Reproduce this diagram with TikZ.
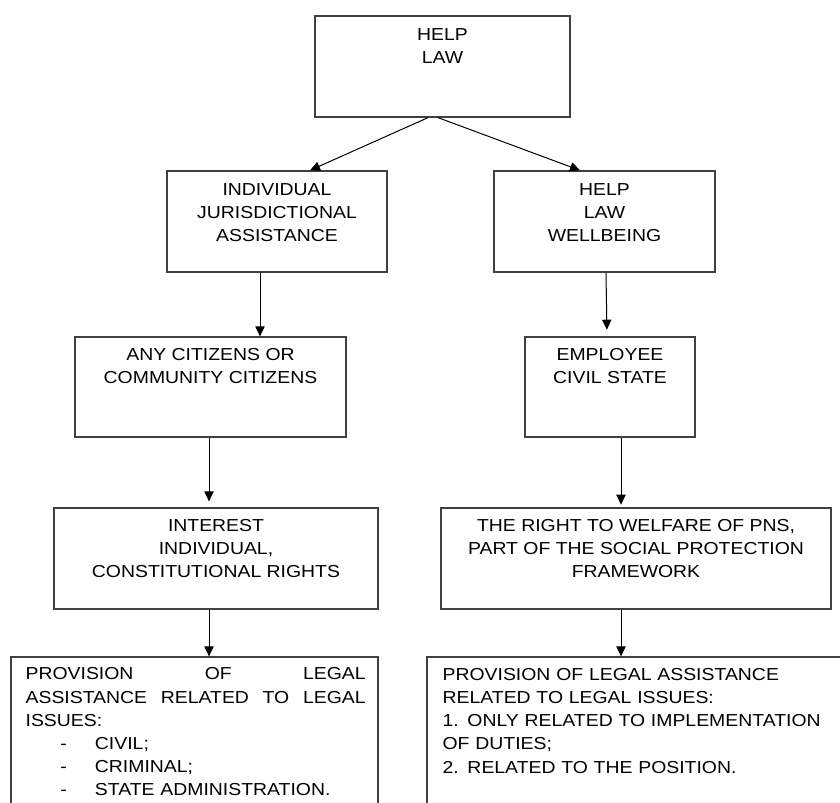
\documentclass[tikz,border=0pt]{standalone}
\usepackage{fontspec}
\setmainfont{Liberation Sans}[FakeStretch=1.12]
\usetikzlibrary{positioning,arrows.meta,calc}
\definecolor{chGray}{RGB}{64,64,64}
\definecolor{chText}{RGB}{0,0,0}
\tikzset{
    base/.style={font=\fontsize{13}{17.4}\selectfont, text=chText},
    box/.style={rectangle, draw=chGray, line width=0.95pt, fill=white, inner sep=0pt},
    head/.style={base, align=center, anchor=north, inner sep=0pt},
    para/.style={base, align=left, anchor=north west, inner sep=0pt},
    flow/.style={-{Triangle[length=7.5pt,width=7pt]}, line width=0.75pt, color=black}
}
\newcommand{\listdash}[1]{\hspace*{26pt}\makebox[26pt][l]{-}#1}

\begin{document}
\begin{tikzpicture}[x=0.75pt,y=-0.75pt]
  \useasboundingbox (0,0) rectangle (840,803);
  \fill[white] (0,0) rectangle (840,803);
  \clip (0,0) rectangle (840,803);

  % boxes
  \node[box, minimum width=191.25pt, minimum height=75.75pt] (law) at (442.5,66.5) {};
  \node[box, minimum width=165pt, minimum height=75.75pt] (jur) at (277,221.5) {};
  \node[box, minimum width=165.75pt, minimum height=75.75pt] (wel) at (604.5,221.5) {};
  \node[box, minimum width=203.25pt, minimum height=75pt] (cit) at (210.5,387) {};
  \node[box, minimum width=127.5pt, minimum height=75pt] (pns) at (610,387) {};
  \node[box, minimum width=243pt, minimum height=75.75pt] (rights) at (216,558.5) {};
  \node[box, minimum width=292.5pt, minimum height=75.75pt] (frame) at (636,558.5) {};
  \node[box, minimum width=275.25pt, minimum height=150pt] (provL) at (194.5,757) {};
  \node[box, minimum width=321pt, minimum height=150pt] (provR) at (641,757) {};

  % texts
  \node[head, below=9.5pt of law.north] (lawTxt) {HELP\\LAW};
  \node[head, below=9.5pt of jur.north] (jurTxt) {INDIVIDUAL\\JURISDICTIONAL\\ASSISTANCE};
  \node[head, below=9.5pt of wel.north] (welTxt) {HELP\\LAW\\WELLBEING};
  \node[head, below=8.8pt of cit.north] (citTxt) {ANY CITIZENS OR\\COMMUNITY CITIZENS};
  \node[head, below=8.8pt of pns.north] (pnsTxt) {EMPLOYEE\\CIVIL STATE};
  \node[head, below=8.8pt of rights.north] (rightsTxt) {INTEREST\\INDIVIDUAL,\\CONSTITUTIONAL RIGHTS};
  \node[head, below=8.8pt of frame.north] (frameTxt) {THE RIGHT TO WELFARE OF PNS,\\PART OF THE SOCIAL PROTECTION\\FRAMEWORK};
  \node[para, text width=255pt] (provLTxt) at ([xshift=11.25pt,yshift=-8.3pt]provL.north west) {
    PROVISION\hfill OF\hfill LEGAL\\
    ASSISTANCE\hfill RELATED\hfill TO\hfill LEGAL\\
    ISSUES:\\
    \listdash{CIVIL;}\\
    \listdash{CRIMINAL;}\\
    \listdash{STATE ADMINISTRATION.}
  };
  \node[para, text width=300pt] (provRTxt) at ([xshift=12pt,yshift=-8.6pt]provR.north west) {
    PROVISION OF LEGAL ASSISTANCE\\
    RELATED TO LEGAL ISSUES:\\
    1. ONLY RELATED TO IMPLEMENTATION\\
    OF DUTIES;\\
    2. RELATED TO THE POSITION.
  };

  % arrows
  \draw[flow] ($(law.south)+(-14.5,0)$) -- ($(jur.north)+(33,0)$);
  \draw[flow] ($(law.south)+(-4.5,0)$) -- ($(wel.north)+(-24.5,0)$);
  \draw[flow] ($(jur.south)+(-17,0)$) -- ($(cit.north)+(49.5,0)$);
  \draw[flow, shorten >=5pt] ($(wel.south)+(1.5,0)$) -- ($(pns.north)+(-3,0)$);
  \draw[flow, shorten >=4.5pt] ($(cit.south)+(-1.5,0)$) -- ($(rights.north)+(-7,0)$);
  \draw[flow, shorten >=2pt] ($(pns.south)+(11,0)$) -- ($(frame.north)+(-15,0)$);
  \draw[flow] ($(rights.south)+(-7,0)$) -- ($(provL.north)+(14.5,0)$);
  \draw[flow] ($(frame.south)+(-15,0)$) -- ($(provR.north)+(-20,0)$);
\end{tikzpicture}
\end{document}
